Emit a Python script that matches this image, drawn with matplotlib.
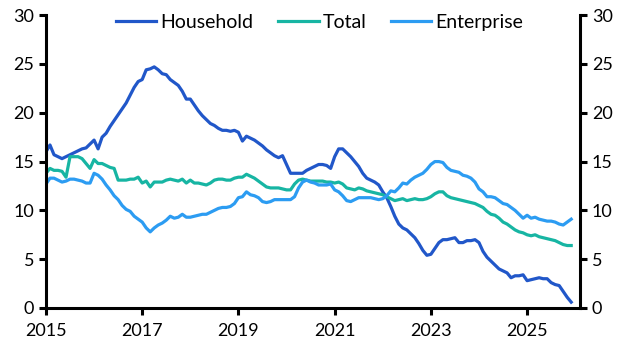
import numpy as np
import matplotlib
matplotlib.use("Agg")
import matplotlib.pyplot as plt

plt.rcParams['font.family'] = ['Lato', 'DejaVu Sans']

# monthly, Jan 2015 - Dec 2025
household = [16.0, 16.7, 15.7, 15.5, 15.3, 15.5, 15.7, 15.9, 16.1, 16.3, 16.4, 16.8,
             17.2, 16.3, 17.5, 17.9, 18.6, 19.2, 19.8, 20.4, 21.0, 21.8, 22.6, 23.2,
             23.4, 24.4, 24.5, 24.7, 24.4, 24.0, 23.9, 23.4, 23.1, 22.8, 22.2, 21.4,
             21.4, 20.8, 20.2, 19.7, 19.3, 18.9, 18.7, 18.4, 18.2, 18.2, 18.1, 18.2,
             18.0, 17.1, 17.6, 17.4, 17.2, 16.9, 16.6, 16.2, 15.9, 15.6, 15.4, 15.6,
             14.7, 13.8, 13.8, 13.8, 13.8, 14.1, 14.3, 14.5, 14.7, 14.7, 14.6, 14.3,
             15.5, 16.3, 16.3, 15.9, 15.5, 15.0, 14.5, 13.8, 13.3, 13.1, 12.9, 12.6,
             11.9, 11.3, 10.4, 9.4, 8.6, 8.2, 8.0, 7.6, 7.2, 6.6, 5.9, 5.4,
             5.5, 6.1, 6.7, 7.0, 7.0, 7.1, 7.2, 6.7, 6.7, 6.9, 6.9, 7.0,
             6.7, 5.8, 5.2, 4.8, 4.4, 4.0, 3.8, 3.6, 3.1, 3.3, 3.3, 3.4,
             2.8, 2.9, 3.0, 3.1, 3.0, 3.0, 2.6, 2.4, 2.3, 1.7, 1.1, 0.6]

total = [13.8, 14.3, 14.1, 14.1, 14.0, 13.4, 15.5, 15.5, 15.5, 15.3, 14.8, 14.3,
         15.2, 14.8, 14.8, 14.6, 14.4, 14.3, 13.1, 13.1, 13.1, 13.2, 13.2, 13.4,
         12.8, 13.0, 12.4, 12.9, 12.9, 12.9, 13.1, 13.2, 13.1, 13.0, 13.2, 12.8,
         13.1, 12.8, 12.8, 12.7, 12.6, 12.8, 13.1, 13.2, 13.2, 13.1, 13.1, 13.3,
         13.4, 13.4, 13.7, 13.5, 13.3, 13.0, 12.7, 12.4, 12.3, 12.3, 12.3, 12.2,
         12.1, 12.1, 12.7, 13.1, 13.2, 13.1, 13.0, 13.0, 13.0, 13.0, 12.9, 12.9,
         12.8, 12.9, 12.7, 12.3, 12.2, 12.1, 12.3, 12.2, 12.0, 11.9, 11.8, 11.7,
         11.6, 11.4, 11.2, 11.0, 11.1, 11.2, 11.0, 11.1, 11.2, 11.1, 11.1, 11.2,
         11.4, 11.7, 11.9, 11.9, 11.5, 11.3, 11.2, 11.1, 11.0, 10.9, 10.8, 10.7,
         10.5, 10.3, 9.9, 9.6, 9.5, 9.2, 8.8, 8.6, 8.3, 8.0, 7.8, 7.7,
         7.5, 7.4, 7.5, 7.3, 7.2, 7.1, 7.0, 6.9, 6.7, 6.5, 6.4, 6.4]

enterprise = [12.7, 13.3, 13.3, 13.1, 12.9, 13.0, 13.2, 13.2, 13.1, 13.0, 12.8, 12.8,
              13.8, 13.6, 13.2, 12.6, 12.1, 11.5, 11.1, 10.5, 10.1, 9.9, 9.4, 9.1,
              8.8, 8.2, 7.8, 8.2, 8.5, 8.7, 9.0, 9.4, 9.2, 9.3, 9.6, 9.3,
              9.3, 9.4, 9.5, 9.6, 9.6, 9.8, 10.0, 10.2, 10.3, 10.3, 10.4, 10.7,
              11.3, 11.4, 11.9, 11.6, 11.5, 11.3, 10.9, 10.8, 10.9, 11.1, 11.1, 11.1,
              11.1, 11.1, 11.4, 12.3, 12.9, 13.1, 12.9, 12.8, 12.6, 12.6, 12.6, 12.7,
              12.1, 11.9, 11.5, 11.0, 10.9, 11.1, 11.3, 11.3, 11.3, 11.3, 11.2, 11.1,
              11.2, 11.5, 12.0, 11.9, 12.3, 12.8, 12.7, 13.1, 13.4, 13.6, 13.8, 14.2,
              14.7, 15.0, 15.0, 14.9, 14.4, 14.1, 14.0, 13.9, 13.6, 13.5, 13.3, 12.9,
              12.2, 11.9, 11.4, 11.4, 11.3, 11.0, 10.7, 10.6, 10.3, 10.0, 9.6, 9.2,
              9.5, 9.2, 9.3, 9.1, 9.0, 8.9, 8.9, 8.8, 8.6, 8.5, 8.8, 9.1]

t = 2015 + np.arange(len(household)) / 12

fig = plt.figure(figsize=(6.28, 3.52), dpi=100)
ax = fig.add_axes([0.0732, 0.125, 0.8504, 0.832])

ax.plot(t, household, color='#2157C9', lw=2.3, label='Household')
ax.plot(t, total, color='#17B5A3', lw=2.3, label='Total')
ax.plot(t, enterprise, color='#2C9CF2', lw=2.3, label='Enterprise')

ax.set_xlim(2015, 2026.1)
ax.set_ylim(0, 30)
ax.set_xticks(np.arange(2015, 2026, 2))
ax.set_yticks(np.arange(0, 31, 5))

for s in ['left', 'bottom', 'right']:
    ax.spines[s].set_linewidth(2.2)
ax.spines['top'].set_visible(False)
ax.tick_params(axis='both', width=2.2, length=5, labelsize=13, direction='out')
ax.tick_params(axis='y', right=True, labelright=True)
ax.tick_params(axis='x', pad=6)

ax.legend(loc='upper center', bbox_to_anchor=(0.512, 1.065), ncol=3, frameon=False,
          fontsize=14, handlelength=2.1, columnspacing=1.25, handletextpad=0.2)

fig.savefig('out.png', dpi=100)
